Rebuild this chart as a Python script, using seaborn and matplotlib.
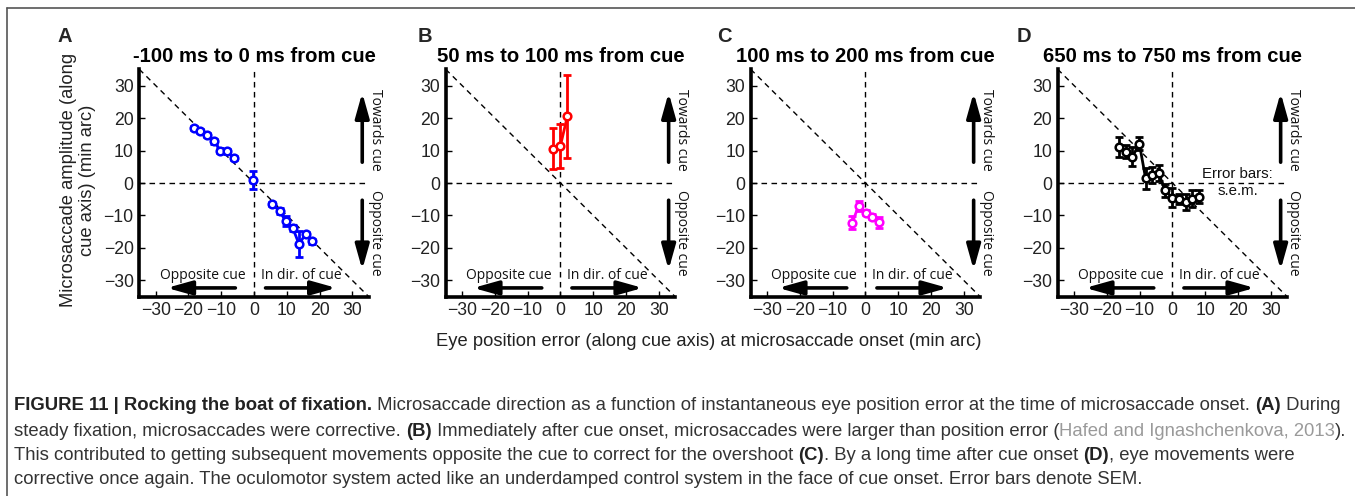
import numpy as np
import pandas as pd
import matplotlib
matplotlib.use("Agg")
import matplotlib.pyplot as plt
import seaborn as sns
from matplotlib import font_manager
from matplotlib.lines import Line2D

# ---------------- data ----------------
a_x = [-18.2, -16.4, -14.4, -12.1, -10.3, -8.3, -6.2, -0.4, 5.5, 7.8, 9.6, 11.8, 13.7, 15.7, 17.7]
a_y = [16.9, 15.9, 14.9, 12.8, 10.0, 9.7, 7.8, 1.0, -6.5, -8.6, -11.7, -13.8, -18.8, -15.8, -18.0]
a_err = [0.6, 0.6, 0.6, 0.7, 0.7, 0.7, 0.6, 2.8, 0.7, 0.8, 1.6, 1.0, 4.0, 0.8, 0.7]
a_seg = [0, 0, 0, 0, 0, 0, 0, 1, 2, 2, 2, 2, 2, 2, 2]

b_x = [-2.3, 0.0, 2.1]
b_y = [10.5, 11.5, 20.5]
b_err = [6.3, 6.8, 12.8]
b_seg = [0, 0, 0]

c_x = [-4.0, -2.1, 0.1, 2.1, 4.2]
c_y = [-12.2, -7.0, -9.2, -10.4, -12.1]
c_err = [1.9, 1.5, 0.8, 0.8, 1.6]
c_seg = [0, 0, 0, 0, 0]

d_x = [-16.3, -14.2, -12.2, -10.1, -8.2, -6.3, -4.2, -2.3, -0.1, 2.0, 4.0, 6.1, 8.0]
d_y = [11.1, 9.6, 8.1, 12.1, 1.5, 2.5, 3.0, -2.2, -4.5, -5.0, -5.8, -4.8, -4.3]
d_err = [3.0, 2.0, 3.0, 2.0, 3.2, 2.5, 2.5, 2.0, 3.0, 1.5, 2.5, 2.5, 2.0]
d_seg = [0] * 13

letters = ["A", "B", "C", "D"]
titles = ["-100 ms to 0 ms from cue", "50 ms to 100 ms from cue",
          "100 ms to 200 ms from cue", "650 ms to 750 ms from cue"]
colors = ["#0000ff", "#ff0000", "#ff00ff", "#000000"]
ticks = [-30, -20, -10, 0, 10, 20, 30]
tick_labels = ["\u221230", "\u221220", "\u221210", "0", "10", "20", "30"]

ylabel = "Microsaccade amplitude (along\ncue axis) (min arc)"
xlabel = "Eye position error (along cue axis) at microsaccade onset (min arc)"

# ---------------- style ----------------
sns.set_theme(style="white")
plt.rcParams["font.family"] = ["Liberation Sans", "DejaVu Sans"]
plt.rcParams["axes.unicode_minus"] = True

W, H = 1355, 496
fig = plt.figure(figsize=(W / 100, H / 100), dpi=100)
fig.patch.set_facecolor("white")

panels = [
    (a_x, a_y, a_err, a_seg),
    (b_x, b_y, b_err, b_seg),
    (c_x, c_y, c_err, c_seg),
    (d_x, d_y, d_err, d_seg),
]
lefts_px = [139.3, 445.7, 750.7, 1057.7]
ax_w_px, ax_h_px = 229.5, 227.4
bottom_px = 296.7
letter_x_px = [65, 425, 724, 1024]

ann_font = ["Open Sans", "DejaVu Sans"]

for i, (xs, ys, es, seg) in enumerate(panels):
    ax = fig.add_axes([lefts_px[i] / W, 1 - bottom_px / H, ax_w_px / W, ax_h_px / H])
    ax.set_facecolor("white")
    ax.set_xlim(-35, 35)
    ax.set_ylim(-35, 35)

    # reference lines
    dash = dict(color="black", lw=1.0, dashes=(4, 3.2), zorder=1)
    ax.plot([-35, 35], [35, -35], **dash)
    ax.axhline(0, **dash)
    ax.axvline(0, **dash)

    df = pd.DataFrame({"x": xs, "y": ys, "seg": seg})
    sns.lineplot(data=df, x="x", y="y", units="seg", estimator=None, sort=False,
                 color=colors[i], lw=2.0, marker="o", markersize=5.5,
                 markerfacecolor="white", markeredgecolor=colors[i],
                 markeredgewidth=1.8, ax=ax, zorder=4, legend=False)
    ax.errorbar(xs, ys, yerr=es, fmt="none", ecolor=colors[i], elinewidth=2.0,
                capsize=2.8, capthick=2.0, zorder=3)

    ax.set_xticks(ticks)
    ax.set_yticks(ticks)
    ax.set_xticklabels(tick_labels)
    ax.set_yticklabels(tick_labels)
    ax.tick_params(direction="in", length=4, width=1, labelsize=12.7,
                   labelcolor="#222222", colors="black", pad=4,
                   bottom=True, left=True)
    for s in ["top", "right"]:
        ax.spines[s].set_visible(False)
    for s in ["left", "bottom"]:
        ax.spines[s].set_linewidth(2.6)
        ax.spines[s].set_color("black")
    ax.set_xlabel("")
    ax.set_ylabel("")
    ax.set_title(titles[i], fontsize=14.6, fontweight="bold", pad=5, color="black")

    # arrows
    ap = dict(arrowstyle="-|>,head_length=1.0,head_width=0.28", lw=2.6, color="black",
              shrinkA=0, shrinkB=0, mutation_scale=15)
    ax.annotate("", xy=(-26.6, -32.3), xytext=(-5.7, -32.3), arrowprops=ap,
                annotation_clip=False)
    ax.annotate("", xy=(25.1, -32.3), xytext=(3.5, -32.3), arrowprops=ap,
                annotation_clip=False)
    ax.annotate("", xy=(33.0, 27.8), xytext=(33.0, 6.4), arrowprops=ap,
                annotation_clip=False)
    ax.annotate("", xy=(33.0, -26.7), xytext=(33.0, -5.3), arrowprops=ap,
                annotation_clip=False)
    ax.text(-15.7, -28.4, "Opposite cue", ha="center", va="center", fontsize=10,
            family=ann_font, color="#111111")
    ax.text(14.4, -28.4, "In dir. of cue", ha="center", va="center", fontsize=10,
            family=ann_font, color="#111111")
    ax.text(36.9, 16.4, "Towards cue", ha="center", va="center", fontsize=10,
            family=ann_font, rotation=-90, clip_on=False, color="#111111")
    ax.text(36.9, -15.2, "Opposite cue", ha="center", va="center", fontsize=10,
            family=ann_font, rotation=-90, clip_on=False, color="#111111")

    if i == 3:
        ax.text(19.9, 2.9, "Error bars:", ha="center", va="center", fontsize=10.8,
                color="#111111")
        ax.text(19.9, -2.4, "s.e.m.", ha="center", va="center", fontsize=10.8,
                color="#111111")

    fig.text(letter_x_px[i] / W, 1 - 36 / H, letters[i], fontsize=14.5,
             fontweight="bold", ha="center", va="center")

# axis labels
fig.text(78 / W, 1 - 180 / H, ylabel, rotation=90, ha="center", va="center",
         fontsize=13.2, color="#222222", linespacing=1.1)
fig.text(709 / W, 1 - 341 / H, xlabel, ha="center", va="center",
         fontsize=13.2, color="#222222")

# frame lines (top and left)
fig.add_artist(Line2D([7 / W, 7 / W], [0, 1 - 8 / H], transform=fig.transFigure,
                      color="#555555", lw=1.2))
fig.add_artist(Line2D([7 / W, 1], [1 - 8 / H, 1 - 8 / H], transform=fig.transFigure,
                      color="#555555", lw=1.2))

# ---------------- caption ----------------
cap_lines = [
    [("FIGURE 11 | Rocking the boat of fixation.", "bold", "#222222"),
     (" Microsaccade direction as a function of instantaneous eye position error at the time of microsaccade onset. ", "normal", "#333333"),
     ("(A)", "bold", "#222222"), (" During", "normal", "#333333")],
    [("steady fixation, microsaccades were corrective. ", "normal", "#333333"),
     ("(B)", "bold", "#222222"),
     (" Immediately after cue onset, microsaccades were larger than position error (", "normal", "#333333"),
     ("Hafed and Ignashchenkova, 2013", "normal", "#9a9a9a"),
     (").", "normal", "#333333")],
    [("This contributed to getting subsequent movements opposite the cue to correct for the overshoot ", "normal", "#333333"),
     ("(C)", "bold", "#222222"),
     (". By a long time after cue onset ", "normal", "#333333"),
     ("(D)", "bold", "#222222"),
     (", eye movements were", "normal", "#333333")],
    [("corrective once again. The oculomotor system acted like an underdamped control system in the face of cue onset. Error bars denote SEM.", "normal", "#333333")],
]
cap_y_px = [406, 431, 455, 480]

avail = {f.name for f in font_manager.fontManager.ttflist}
cap_family = "Liberation Sans Narrow" if "Liberation Sans Narrow" in avail else "Liberation Sans"

renderer = fig.canvas.get_renderer()


def draw_line(segs, y_px, size, draw=True):
    x = 14.0
    arts = []
    for txt, wt, col in segs:
        t = fig.text(x / W, 1 - y_px / H, txt, fontsize=size, fontweight=wt,
                     color=col, family=cap_family, ha="left", va="center")
        w = t.get_window_extent(renderer).width
        arts.append(t)
        x += w
    if not draw:
        for t in arts:
            t.remove()
    return x


base = 10.0
end = draw_line(cap_lines[0], cap_y_px[0], base, draw=False)
size = base * (1345 - 14) / (end - 14)
for segs, y in zip(cap_lines, cap_y_px):
    draw_line(segs, y, size)

fig.savefig("out.png", dpi=100, facecolor="white")
